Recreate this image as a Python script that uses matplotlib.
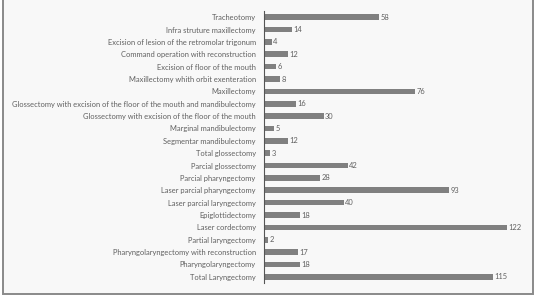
import matplotlib
matplotlib.use("Agg")
import matplotlib.pyplot as plt
from matplotlib.patches import Rectangle

# categories from top to bottom as in the reference
procedures = [
    "Tracheotomy",
    "Infra struture maxillectomy",
    "Excision of lesion of the retromolar trigonum",
    "Command operation with reconstruction",
    "Excision of floor of the mouth",
    "Maxillectomy whith orbit exenteration",
    "Maxillectomy",
    "Glossectomy with excision of the floor of the mouth and mandibulectomy",
    "Glossectomy with excision of the floor of the mouth",
    "Marginal mandibulectomy",
    "Segmentar mandibulectomy",
    "Total glossectomy",
    "Parcial glossectomy",
    "Parcial pharyngectomy",
    "Laser parcial pharyngectomy",
    "Laser parcial laryngectomy",
    "Epiglottidectomy",
    "Laser cordectomy",
    "Partial laryngectomy",
    "Pharyngolaryngectomy with reconstruction",
    "Pharyngolaryngectomy",
    "Total Laryngectomy",
]
counts = [58, 14, 4, 12, 6, 8, 76, 16, 30, 5, 12, 3, 42, 28, 93, 40, 18, 122, 2, 17, 18, 115]

W, H = 535, 302
fig = plt.figure(figsize=(W / 100, H / 100), dpi=100)
fig.patch.set_facecolor("white")

# light panel with gray frame, kept behind the axes
fig.patches.append(Rectangle((3 / W, 1 - 294 / H), 530 / W, 294 / H + 0.01,
                             transform=fig.transFigure, facecolor="#f8f8f8",
                             edgecolor="#8a8a8a", linewidth=1.4, zorder=-10))

ax = fig.add_axes([264 / W, 1 - 283 / H, 256 / W, 272 / H])
ax.patch.set_alpha(0)

ypos = list(range(len(procedures)))
ax.barh(ypos, counts, height=0.45, color="#808080")
for y, v in zip(ypos, counts):
    ax.text(v + 0.7, y, str(v), va="center", ha="left", fontsize=5.4,
            color="#606060", family="Lato")

ax.set_xlim(0, 256 / 1.99)
ax.set_ylim(len(procedures) - 0.5, -0.5)
ax.set_yticks(ypos)
ax.set_yticklabels(procedures, fontsize=5.4, color="#606060", family="Lato")
ax.tick_params(axis="y", length=0, pad=6)
ax.set_xticks([])
for side in ["top", "right", "bottom"]:
    ax.spines[side].set_visible(False)
ax.spines["left"].set_color("#555555")
ax.spines["left"].set_linewidth(0.8)

fig.savefig("out.png", dpi=100)
